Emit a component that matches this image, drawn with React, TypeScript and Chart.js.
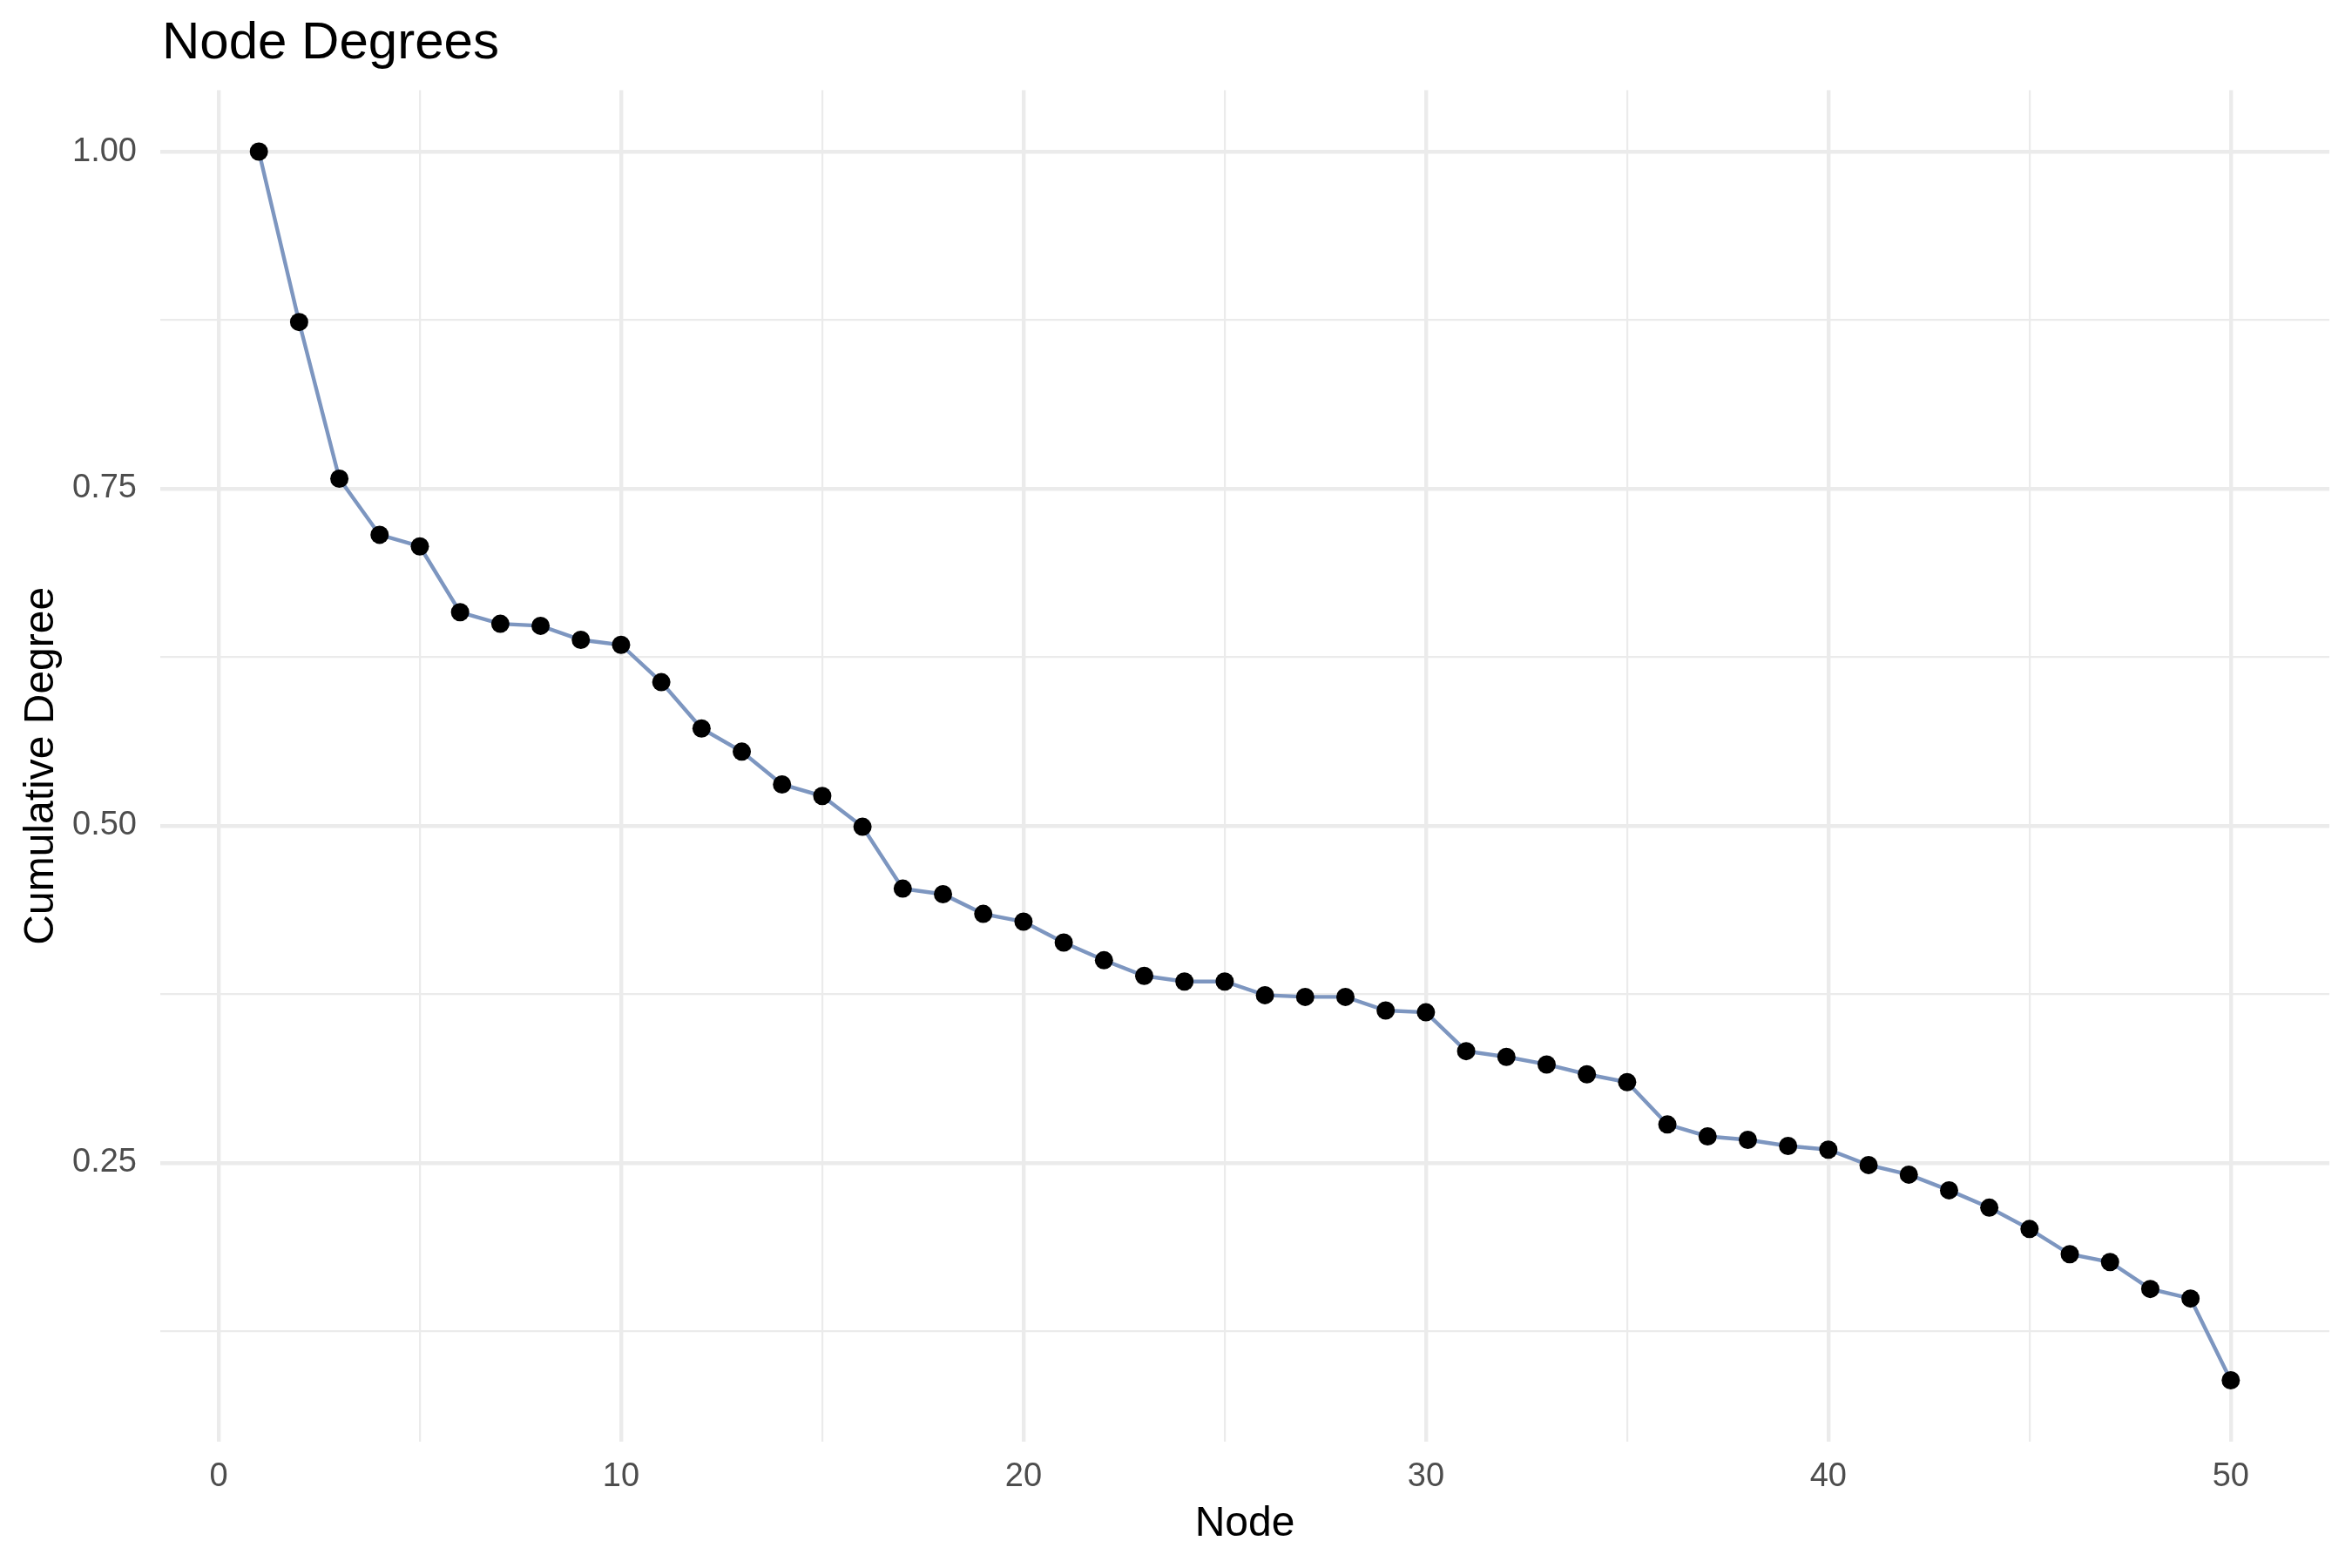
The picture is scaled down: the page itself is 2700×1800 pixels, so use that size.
import React, { useEffect, useRef } from "react";
import { Chart, registerables } from "chart.js";

Chart.register(...registerables);

const TITLE = "Node Degrees";
const X_TITLE = "Node";
const Y_TITLE = "Cumulative Degree";

const nodes = [
  1, 2, 3, 4, 5, 6, 7, 8, 9, 10,
  11, 12, 13, 14, 15, 16, 17, 18, 19, 20,
  21, 22, 23, 24, 25, 26, 27, 28, 29, 30,
  31, 32, 33, 34, 35, 36, 37, 38, 39, 40,
  41, 42, 43, 44, 45, 46, 47, 48, 49, 50,
];

const degrees = [
  1.0, 0.8736, 0.7574, 0.7158, 0.7072, 0.6584, 0.6498, 0.6483, 0.6379, 0.6342,
  0.6065, 0.5722, 0.555, 0.5307, 0.5221, 0.4993, 0.4534, 0.4493, 0.4347, 0.4289,
  0.4134, 0.4003, 0.3887, 0.3845, 0.3845, 0.3744, 0.3731, 0.3731, 0.363, 0.3617,
  0.3329, 0.3286, 0.323, 0.3157, 0.3099, 0.2785, 0.2697, 0.2671, 0.2626, 0.2598,
  0.2484, 0.2413, 0.2297, 0.2168, 0.201, 0.1823, 0.1765, 0.1565, 0.1494, 0.0888,
];

const xTicks = [0, 5, 10, 15, 20, 25, 30, 35, 40, 45, 50];
const xMajor = [0, 10, 20, 30, 40, 50];
const yTicks = [0.125, 0.25, 0.375, 0.5, 0.625, 0.75, 0.875, 1.0];
const yMajor = [0.25, 0.5, 0.75, 1.0];

const FONT = "'Liberation Sans', Arial, Helvetica, sans-serif";
const GRID = "#EBEBEB";
const LINE_COLOR = "#7D96C0";

export default function App() {
  const ref = useRef<HTMLCanvasElement | null>(null);

  useEffect(() => {
    document.body.style.margin = "0";
    const canvas = ref.current;
    if (!canvas) return;

    const xMinD = Math.min(...nodes);
    const xMaxD = Math.max(...nodes);
    const yMinD = Math.min(...degrees);
    const yMaxD = Math.max(...degrees);
    const xPad = (xMaxD - xMinD) * 0.05;
    const yPad = (yMaxD - yMinD) * 0.05;

    const titlePlugin = {
      id: "ggTitle",
      afterDraw(chart: any) {
        const ctx = chart.ctx;
        ctx.save();
        ctx.font = `60px ${FONT}`;
        ctx.fillStyle = "#000000";
        ctx.textAlign = "left";
        ctx.textBaseline = "alphabetic";
        ctx.fillText(TITLE, 186, 67);
        ctx.restore();
      },
    };

    const chart = new Chart(canvas, {
      type: "line",
      data: {
        datasets: [
          {
            label: Y_TITLE,
            data: nodes.map((n, i) => ({ x: n, y: degrees[i] })),
            borderColor: LINE_COLOR,
            borderWidth: 4.4,
            pointRadius: 10.5,
            pointBackgroundColor: "#000000",
            pointBorderColor: "#000000",
            pointBorderWidth: 0,
            tension: 0,
            fill: false,
          },
        ],
      },
      options: {
        responsive: false,
        animation: false,
        devicePixelRatio: 1,
        layout: { padding: { top: 103.5, right: 26, left: 0, bottom: 0 } },
        plugins: {
          legend: { display: false },
          tooltip: { enabled: false },
          title: { display: false },
        },
        scales: {
          x: {
            type: "linear",
            min: xMinD - xPad,
            max: xMaxD + xPad,
            afterBuildTicks: (scale: any) => {
              scale.ticks = xTicks.map((v) => ({ value: v }));
            },
            afterFit: (scale: any) => {
              scale.height = 145;
            },
            ticks: {
              autoSkip: false,
              maxRotation: 0,
              padding: 18,
              color: "#4D4D4D",
              font: { size: 38, family: FONT },
              callback: (v: any) => (xMajor.includes(Number(v)) ? String(v) : ""),
            },
            grid: {
              color: GRID,
              drawTicks: false,
              lineWidth: (ctx: any) =>
                ctx.tick && xMajor.includes(ctx.tick.value) ? 4.4 : 2.2,
            },
            border: { display: false },
            title: {
              display: true,
              text: X_TITLE,
              color: "#000000",
              font: { size: 48, family: FONT },
              padding: { top: 0, bottom: 21 },
            },
          },
          y: {
            type: "linear",
            min: yMinD - yPad,
            max: yMaxD + yPad,
            afterBuildTicks: (scale: any) => {
              scale.ticks = yTicks.map((v) => ({ value: v }));
            },
            afterFit: (scale: any) => {
              scale.width = 184;
            },
            ticks: {
              autoSkip: false,
              padding: 27,
              color: "#4D4D4D",
              font: { size: 38, family: FONT },
              callback: (v: any) =>
                yMajor.some((m) => Math.abs(m - Number(v)) < 1e-9)
                  ? Number(v).toFixed(2)
                  : "",
            },
            grid: {
              color: GRID,
              drawTicks: false,
              lineWidth: (ctx: any) =>
                ctx.tick && yMajor.some((m) => Math.abs(m - ctx.tick.value) < 1e-9)
                  ? 4.4
                  : 2.2,
            },
            border: { display: false },
            title: {
              display: true,
              text: Y_TITLE,
              color: "#000000",
              font: { size: 48, family: FONT },
              padding: { top: 19, bottom: 0 },
            },
          },
        },
      },
      plugins: [titlePlugin],
    } as any);

    return () => {
      chart.destroy();
    };
  }, []);

  return (
    <div style={{ width: 2700, height: 1800, background: "#ffffff" }}>
      <canvas ref={ref} width={2700} height={1800} style={{ display: "block" }} />
    </div>
  );
}
